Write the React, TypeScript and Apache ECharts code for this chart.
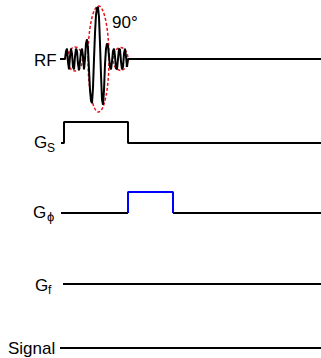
import React, { useEffect, useRef } from "react";
import * as echarts from "echarts";

// time axis in arbitrary units (0..321)
const rfTime = [60, 65, 66, 67, 68, 69, 70, 71, 72, 73, 74, 75, 76, 77, 78, 79, 80, 81, 82, 83, 84, 85, 86, 87, 88, 89, 90, 91, 92, 93, 94, 95, 96, 97, 98, 99, 100, 101, 102, 103, 104, 105, 106, 107, 108, 109, 110, 111, 112, 113, 114, 115, 116, 117, 118, 119, 120, 121, 122, 123, 124, 125, 126, 127, 128, 321];
const rfAmp = [0, 0, 0.15, 0.2, -0.05, -0.2, 0.05, 0.2, 0.1, -0.15, -0.2, 0.05, 0.2, 0.15, -0.1, -0.22, -0.05, 0.15, 0.2, 0.05, -0.2, 0.0, 0.3, 0.38, 0.2, -0.2, -0.6, -0.8, -0.85, -0.55, 0.0, 0.5, 0.85, 0.98, 1.0, 0.8, 0.3, -0.3, -0.78, -0.88, -0.6, -0.1, 0.2, 0.3, 0.25, 0.05, -0.15, -0.2, -0.05, 0.15, 0.2, 0.05, -0.18, -0.2, 0.0, 0.2, 0.18, -0.05, -0.2, -0.15, 0.1, 0.2, 0.05, -0.15, 0, 0];

// envelope ellipses: centre time, half-width (time), half-height (amplitude)
const envCentre = [75, 98.5, 120.5];
const envHalfWidth = [7.5, 10.5, 7.5];
const envHalfHeight = [0.23, 1.02, 0.22];

const gsTime = [61, 64, 64, 128, 128, 321];
const gsAmp = [0, 0, 1, 1, 0, 0];

const gpTimeA = [61, 128];
const gpAmpA = [0, 0];
const gpTimeB = [128, 128, 173, 173];
const gpAmpB = [0, 1, 1, 0];
const gpTimeC = [173, 321];
const gpAmpC = [0, 0];

const gfTime = [63, 321];
const gfAmp = [0, 0];

const sigTime = [60, 321];
const sigAmp = [0, 0];

const flipLabel = "90°";

const zip = (a: number[], b: number[]) => a.map((v, i) => [v, b[i]]);

export default function App() {
  const ref = useRef<HTMLDivElement>(null);
  useEffect(() => {
    const chart = echarts.init(ref.current!, null, { renderer: "svg" });
    const font = "'Liberation Sans', Arial, sans-serif";
    const grids = [
      { left: 0, right: 0, top: 7, height: 104 },
      { left: 0, right: 0, top: 122, height: 21 },
      { left: 0, right: 0, top: 192, height: 21 },
      { left: 0, right: 0, top: 274, height: 10 },
      { left: 0, right: 0, top: 338, height: 10 },
    ];
    const xAxes = grids.map((_, i) => ({ type: "value", gridIndex: i, min: 0, max: 321, show: false }));
    const yAxes = grids.map((_, i) => ({
      type: "value",
      gridIndex: i,
      min: i === 0 ? -1 : 0,
      max: 1,
      show: false,
    }));
    const line = (i: number, data: number[][], color = "#000") => ({
      type: "line",
      xAxisIndex: i,
      yAxisIndex: i,
      data,
      symbol: "none",
      silent: true,
      clip: false,
      lineStyle: { color, width: 2 },
    });
    const txt = (text: string, x: number, y: number, size: number, color = "#000") => ({
      type: "text",
      x,
      y,
      style: { text, fill: color, font: `${size}px ${font}`, textAlign: "left", textVerticalAlign: "middle" },
    });
    chart.setOption({
      animation: false,
      grid: grids,
      xAxis: xAxes,
      yAxis: yAxes,
      series: [
        line(0, zip(rfTime, rfAmp)),
        {
          type: "custom",
          xAxisIndex: 0,
          yAxisIndex: 0,
          clip: false,
          silent: true,
          data: envCentre.map((c, i) => [c, envHalfWidth[i], envHalfHeight[i]]),
          renderItem: (_p: any, api: any) => {
            const c = api.coord([api.value(0), 0]);
            const s = api.size([api.value(1), api.value(2)]);
            return {
              type: "ellipse",
              shape: { cx: c[0], cy: c[1], rx: s[0], ry: s[1] },
              style: { fill: "none", stroke: "#e8141c", lineWidth: 1.5, lineDash: [3, 2] },
            };
          },
        },
        line(1, zip(gsTime, gsAmp)),
        line(2, zip(gpTimeA, gpAmpA)),
        line(2, zip(gpTimeB, gpAmpB), "#0000ff"),
        line(2, zip(gpTimeC, gpAmpC)),
        line(3, zip(gfTime, gfAmp)),
        line(4, zip(sigTime, sigAmp)),
      ],
      graphic: [
        txt("RF", 34, 60, 17),
        txt(flipLabel, 112, 22, 17),
        txt("G", 34, 142.5, 17),
        txt("S", 47, 147.5, 12),
        txt("G", 33, 212.5, 17),
        txt("ϕ", 47, 216.5, 13),
        txt("G", 35, 285, 17),
        txt("f", 48, 289.5, 12),
        txt("Signal", 8, 348.5, 17),
      ],
    });
    return () => chart.dispose();
  }, []);
  return <div ref={ref} style={{ position: "fixed", left: 0, top: 0, width: 321, height: 358, background: "#fff" }} />;
}
